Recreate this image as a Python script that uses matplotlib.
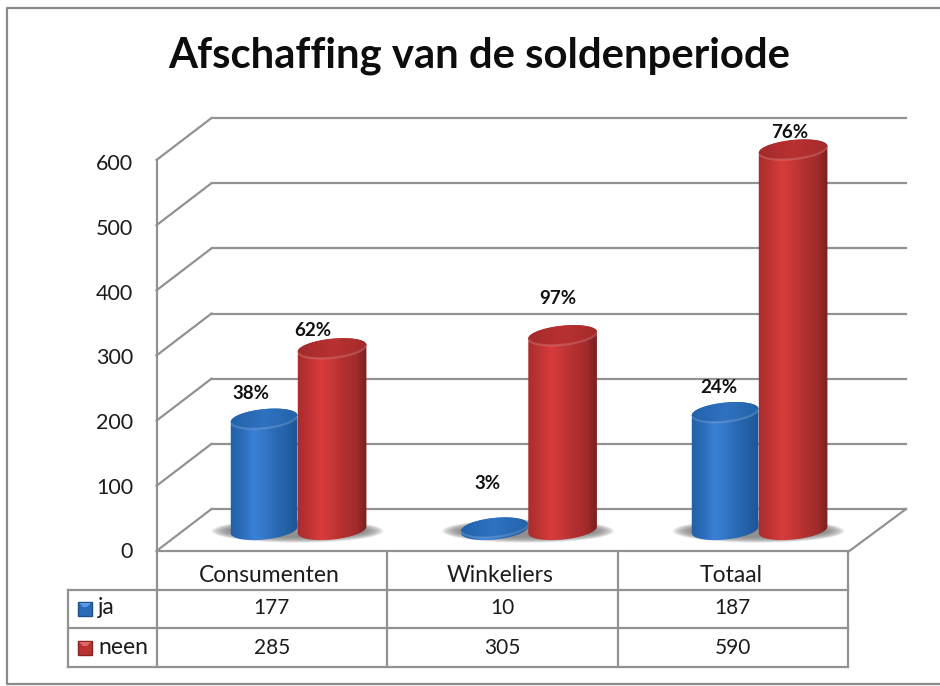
import numpy as np
import matplotlib
matplotlib.use('Agg')
import matplotlib.pyplot as plt
from matplotlib.colors import LinearSegmentedColormap
from matplotlib.patches import Polygon
from matplotlib.transforms import Affine2D, IdentityTransform

plt.rcParams['font.family'] = ['Lato', 'DejaVu Sans']

title = 'Afschaffing van de soldenperiode'
categories = ['Consumenten', 'Winkeliers', 'Totaal']
series_names = ['ja', 'neen']
ja = [177, 10, 187]
neen = [285, 305, 590]
ja_pct = ['38%', '3%', '24%']
neen_pct = ['62%', '97%', '76%']
y_ticks = [0, 100, 200, 300, 400, 500, 600]

W, H = 940, 686
GRID = '#929292'
TXT = '#1c1c1c'

# layout in image pixels
X0, X3 = 156.5, 848
Y0, Y600 = 551, 160
DX, DY = 55, 42       # depth of the floor
BAR_W = 67
TILT = np.radians(6)

blue_cm = LinearSegmentedColormap.from_list('b', ['#2160a8', '#2a6bb8', '#3a80d6', '#3578c8', '#2a6ab4', '#2360a6', '#1c5494'])
red_cm = LinearSegmentedColormap.from_list('r', ['#aa2c2c', '#bd3333', '#d83c3c', '#c63737', '#b23030', '#a32b2b', '#781e1e'])
cap_blue = LinearSegmentedColormap.from_list('cb', ['#2162aa', '#2f72c0', '#2363a8'])
cap_red = LinearSegmentedColormap.from_list('cr', ['#a32a2a', '#b93131', '#a42b2b'])

fig = plt.figure(figsize=(W / 100, H / 100), dpi=100, facecolor='white')
ax = fig.add_axes([0, 0, 1, 1])
ax.set_xlim((0 - X0) / ((X3 - X0) / 3), (W - X0) / ((X3 - X0) / 3))
yscale = (Y0 - Y600) / 600
ax.set_ylim((Y0 - H) / yscale, Y0 / yscale)
ax.axis('off')

# y axis down, image pixels
pix = Affine2D().scale(1, -1).translate(0, H)


def line(xs, ys, lw=1.6, color=GRID, z=1):
    ax.plot(xs, ys, transform=pix, color=color, lw=lw, solid_capstyle='projecting', zorder=z)


def ypx(v):
    return H - ax.transData.transform((0, v))[1]


def xpx(c):
    return ax.transData.transform((c, 0))[0]


def ell(cx, cy, t, a, b=9.5):
    # tilted ellipse, rises to the right
    ex = a * np.cos(t)
    ey = b * np.sin(t)
    return (cx + ex * np.cos(TILT) - ey * np.sin(TILT),
            cy - ex * np.sin(TILT) - ey * np.cos(TILT))


def gradient(cm, x1, x2, y1, y2, clip, z):
    im = ax.imshow(np.linspace(0, 1, 128).reshape(1, -1), cmap=cm, aspect='auto',
                   extent=(x1, x2, H - y2, H - y1), transform=IdentityTransform(), zorder=z,
                   interpolation='bilinear')
    im.set_clip_path(clip)


def cylinder(cx, value, a, cm, cap_cm, z):
    base_y = Y0 - 21
    top_y = ypx(value) - 17
    bx, by = ell(cx, base_y, np.linspace(np.pi, 2 * np.pi, 60), a)
    tx, ty = ell(cx, top_y, np.linspace(0, np.pi, 60), a)
    body = Polygon(np.c_[np.r_[bx, tx], np.r_[by, ty]], transform=pix, fc='none', ec='none', zorder=z)
    ax.add_patch(body)
    gradient(cm, cx - a - 1, cx + a + 1, top_y - 20, base_y + 20, body, z)
    ex, ey = ell(cx, top_y, np.linspace(0, 2 * np.pi, 120), a)
    cap = Polygon(np.c_[ex, ey], transform=pix, fc='none', ec='none', zorder=z + 0.1)
    ax.add_patch(cap)
    gradient(cap_cm, cx - a - 1, cx + a + 1, top_y - 20, top_y + 20, cap, z + 0.1)
    # light rim under the cap
    rx, ry = ell(cx, top_y, np.linspace(np.pi + 0.2, 2 * np.pi - 0.2, 40), a)
    ax.plot(rx, ry, transform=pix, color='white', alpha=0.16, lw=1.6, zorder=z + 0.2)


def shadow(cx, z=1.5):
    base_y = Y0 - 20
    t = np.linspace(0, 2 * np.pi, 80)
    for grow in np.linspace(19, 0, 16):
        sx = cx + (BAR_W + grow) * np.cos(t)
        sy = base_y + (6 + grow * 0.3) * np.sin(t)
        ax.fill(sx, sy, transform=pix, color='#808080', alpha=0.11, lw=0, zorder=z)


# outer frame, no right edge
line([940, 7, 7, 940], [7.5, 7.5, 684, 684], lw=1.6, color='#8a8a8a')

# back wall, side wall and floor
for v in y_ticks:
    y = ypx(v)
    line([X0, X0 + DX], [y, y - DY])
    line([X0 + DX, 906], [y - DY, y - DY])
line([X0, X0], [Y600, Y0])
line([X0, X3], [Y0, Y0])
line([X3, 906], [Y0 + 1, Y0 - DY])

# bars
for i in range(3):
    centre = xpx(i + 0.5) + DX * 0.47
    shadow(centre)
    cylinder(centre - BAR_W / 2, ja[i], BAR_W / 2, blue_cm, cap_blue, 3)
    cylinder(centre + BAR_W / 2 + 1, neen[i], BAR_W / 2 + 1, red_cm, cap_red, 4)

# percentage labels
ja_off = [(-13, -22), (-7, -41), (-6, -22)]
neen_off = [(-18, -15), (-4, -34), (-2, -14)]
for i in range(3):
    centre = xpx(i + 0.5) + DX * 0.47
    for v, s, off, sign in ((ja[i], ja_pct[i], ja_off[i], -1), (neen[i], neen_pct[i], neen_off[i], 1)):
        ax.text(centre + sign * BAR_W / 2 + off[0], ypx(v) - DY * 0.47 + off[1], s, transform=pix,
                ha='center', va='center', fontsize=13.5, fontweight='bold', color='#111111', zorder=6)

# y tick labels
for v in y_ticks:
    ax.text(133, ypx(v) + v / 600 * 3 + 1.5, str(v), transform=pix, ha='right', va='center', fontsize=15.5, color=TXT)

# data table
row_y = [590, 628, 667]
line([68, 68], [row_y[0], row_y[2]])
for y in row_y:
    line([68, X3], [y, y])
for i in range(4):
    line([xpx(i), xpx(i)], [Y0, row_y[2]])
for i in range(3):
    xc = xpx(i + 0.5)
    ax.text(xc - 2, 575, categories[i], transform=pix, ha='center', va='center', fontsize=16.5, color=TXT)
    ax.text(xc, 608.5, str(ja[i]), transform=pix, ha='center', va='center', fontsize=15, color=TXT)
    ax.text(xc, 647.5, str(neen[i]), transform=pix, ha='center', va='center', fontsize=15, color=TXT)

for name, y, c, top, e in zip(series_names, [609, 648], ['#2a6cb8', '#b83232'], ['#5d9be0', '#df6a6a'], ['#1d4f8c', '#8a2222']):
    ax.fill([78, 92, 92, 78], [y - 7, y - 7, y + 7, y + 7], transform=pix, fc=c, ec=e, lw=1, zorder=3)
    ax.fill([79, 91, 87, 83], [y - 6, y - 6, y - 2, y - 2], transform=pix, fc=top, lw=0, zorder=3.1)
    ax.text(98, y - 1, name, transform=pix, ha='left', va='center', fontsize=16.5, color=TXT)

ax.text(479, 56, title, transform=pix, ha='center', va='center', fontsize=30.2, fontweight='bold', color='#0d0d0d')

ax.set_xlim((0 - X0) / ((X3 - X0) / 3), (W - X0) / ((X3 - X0) / 3))
ax.set_ylim((Y0 - H) / yscale, Y0 / yscale)
fig.savefig('out.png', dpi=100)
